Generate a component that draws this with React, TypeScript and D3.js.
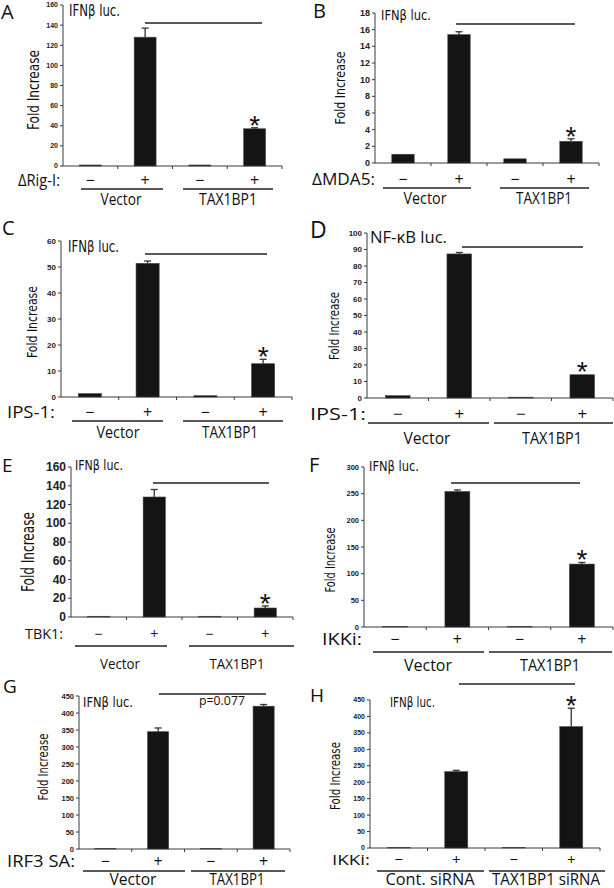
import React from "react";
import * as d3 from "d3";

// ---------- DATA ----------
const conditions = ["c1", "c2", "c3", "c4"];
const signs = ["−", "+", "−", "+"];

const valuesA = [1, 128, 1, 37];
const errorsA = [0.5, 9, 0.5, 1];
const valuesB = [1.05, 15.4, 0.5, 2.6];
const errorsB = [0.05, 0.35, 0.05, 0.3];
const valuesC = [1.3, 51.4, 0.5, 12.8];
const errorsC = [0.2, 0.9, 0.1, 1.7];
const valuesD = [1.4, 87.3, 0.5, 14.1];
const errorsD = [0.2, 0.9, 0.1, 0.3];
const valuesE = [0.8, 128, 0.8, 9.6];
const errorsE = [0.2, 8, 0.2, 2.2];
const valuesF = [1, 254, 1, 118];
const errorsF = [0.3, 3, 0.3, 3];
const valuesG = [2, 345, 2, 420];
const errorsG = [0.5, 11, 0.5, 5];
const valuesH = [2, 232, 2, 369];
const errorsH = [0.5, 4, 0.5, 56];

const ticksA = [0, 20, 40, 60, 80, 100, 120, 140, 160];
const ticksB = [0, 2, 4, 6, 8, 10, 12, 14, 16, 18];
const ticksC = [0, 10, 20, 30, 40, 50, 60];
const ticksD = [0, 10, 20, 30, 40, 50, 60, 70, 80, 90, 100];
const ticksE = [0, 20, 40, 60, 80, 100, 120, 140, 160];
const ticksF = [0, 50, 100, 150, 200, 250, 300];
const ticksG = [0, 50, 100, 150, 200, 250, 300, 350, 400, 450];
const ticksH = [0, 50, 100, 150, 200, 250, 300, 350, 400, 450];

const treatmentLabels = ["ΔRig-I:", "ΔMDA5:", "IPS-1:", "IPS-1:", "TBK1:", "IKKi:", "IRF3 SA:", "IKKi:"];
const reporterLabels = ["IFNβ luc.", "IFNβ luc.", "IFNβ luc.", "NF-κB luc.", "IFNβ luc.", "IFNβ luc.", "IFNβ luc.", "IFNβ luc."];
const groupsStd = ["Vector", "TAX1BP1"];
const groupsSi = ["Cont. siRNA", "TAX1BP1 siRNA"];
const panelLetters = ["A", "B", "C", "D", "E", "F", "G", "H"];
const yTitle = "Fold Increase";

// ---------- LAYOUT ----------
const SANS = "'Open Sans', 'Noto Sans', 'Liberation Sans', sans-serif";
const NARROW = "'Liberation Sans Narrow', 'DejaVu Sans Condensed', 'Liberation Sans', sans-serif";
const TICKFONT = "'Liberation Sans', Arial, sans-serif";

type Layout = {
  x0: number; xR: number; yZero: number; yTop: number;
  tickFont: number;
  letter: [number, number, number];
  title: [number, number, number, number, string];
  sig: [number, number, number];
  yt: [number, number, number, number];
  treat: [number, number, number, number];
  under: [number, number][]; underY: number;
  groups: [number, number, number][]; groupBase: number; groupSize: number;
  star: boolean;
};

const layouts: Layout[] = [
  { x0: 63, xR: 282, yZero: 166, yTop: 5, tickFont: 7, letter: [1, 19, 20],
    title: [69, 16, 51, 15.5, NARROW], sig: [145, 262, 23], yt: [33, 90, 80, 15.5],
    treat: [18, 186, 42, 16], under: [[81, 163], [183, 273]], underY: 189,
    groups: [[121, 41, 0], [228, 58, 0]], groupBase: 205, groupSize: 16, star: true },
  { x0: 375, xR: 599, yZero: 163, yTop: 13, tickFont: 9, letter: [313, 18, 20],
    title: [381, 20, 50, 14.5, NARROW], sig: [456, 575, 24], yt: [340, 88, 73, 14.5],
    treat: [312, 185, 63, 16], under: [[383, 471], [500, 589]], underY: 188,
    groups: [[425, 43, 0], [544, 56, 0]], groupBase: 204, groupSize: 16, star: true },
  { x0: 61, xR: 292, yZero: 397, yTop: 241, tickFont: 8, letter: [2, 235, 20],
    title: [68, 252, 51, 15.5, NARROW], sig: [145, 267, 254], yt: [32, 322, 72, 14.5],
    treat: [7, 418, 48, 16], under: [[72, 163], [183, 283]], underY: 421,
    groups: [[118, 43, 0], [230, 56, 0]], groupBase: 438, groupSize: 16, star: true },
  { x0: 367, xR: 613, yZero: 398, yTop: 233, tickFont: 8, letter: [310, 238, 23],
    title: [370, 243, 77, 16, SANS], sig: [462, 583, 247], yt: [334, 326, 68, 13.5],
    treat: [310, 420, 56, 17], under: [[368, 489], [494, 613]], underY: 423,
    groups: [[427, 47, 0], [552, 60, 0]], groupBase: 444, groupSize: 17, star: true },
  { x0: 71, xR: 293, yZero: 617, yTop: 467, tickFont: 12, letter: [2, 472, 19],
    title: [75, 470, 48, 14.5, NARROW], sig: [153, 269, 483], yt: [28, 552, 80, 17.5],
    treat: [25, 639, 38, 14], under: [[75, 167], [189, 294]], underY: 646,
    groups: [[120, 40, 0], [237, 55, 0]], groupBase: 669, groupSize: 15, star: true },
  { x0: 364, xR: 613, yZero: 627, yTop: 467, tickFont: 7.5, letter: [309, 472, 20],
    title: [369, 471, 50, 14.5, NARROW], sig: [451, 580, 483], yt: [330, 560, 65, 13.5],
    treat: [322, 645, 40, 16], under: [[373, 484], [489, 612]], underY: 652,
    groups: [[428, 48, 0], [550, 60, 0]], groupBase: 671, groupSize: 17, star: true },
  { x0: 79, xR: 290, yZero: 849, yTop: 696, tickFont: 7.5, letter: [3, 693, 19],
    title: [83, 707, 50, 14.5, NARROW], sig: [159, 266, 694], yt: [43, 767, 67, 13.5],
    treat: [7, 867, 68, 16], under: [[83, 185], [191, 285]], underY: 871,
    groups: [[133, 47, 0], [237, 55, 0]], groupBase: 885, groupSize: 16, star: false },
  { x0: 370, xR: 600, yZero: 848, yTop: 700, tickFont: 7, letter: [310, 702, 19],
    title: [390, 707, 45, 14.5, NARROW], sig: [459, 575, 684], yt: [335, 776, 68, 13.5],
    treat: [332, 865, 38, 15], under: [[377, 484], [489, 605]], underY: 871,
    groups: [[430, 89, 0], [546, 108, 0]], groupBase: 885, groupSize: 16, star: true },
];

const panelValues = [valuesA, valuesB, valuesC, valuesD, valuesE, valuesF, valuesG, valuesH];
const panelErrors = [errorsA, errorsB, errorsC, errorsD, errorsE, errorsF, errorsG, errorsH];
const panelTicks = [ticksA, ticksB, ticksC, ticksD, ticksE, ticksF, ticksG, ticksH];
const panelGroups = [groupsStd, groupsStd, groupsStd, groupsStd, groupsStd, groupsStd, groupsStd, groupsSi];

const AXIS = "#3a3a3a";

function Panel({ i }: { i: number }) {
  const L = layouts[i];
  const vals = panelValues[i];
  const errs = panelErrors[i];
  const ticks = panelTicks[i];
  const yMax = ticks[ticks.length - 1];
  const y = d3.scaleLinear().domain([0, yMax]).range([L.yZero, L.yTop]);
  const x = d3.scaleBand<string>().domain(conditions).range([L.x0, L.xR]).padding(0);
  const bw = x.bandwidth() * 0.4;
  const boundaries = conditions.map((c) => (x(c) as number) + x.bandwidth());
  const [tx, tb, tw, ts, tf] = L.title;
  const [ycx, ycy, ylen, ysize] = L.yt;
  const [trx, trb, trw, trs] = L.treat;
  const last = conditions.length - 1;
  const starY = y(vals[last] + errs[last]) - 9;
  return (
    <g>
      <text x={L.letter[0]} y={L.letter[1]} fontFamily={SANS} fontSize={L.letter[2]} fill="#111">
        {panelLetters[i]}
      </text>
      {/* y axis */}
      <line x1={L.x0} x2={L.x0} y1={y(0)} y2={y(yMax)} stroke={AXIS} strokeWidth={1} />
      {ticks.map((t) => (
        <g key={t}>
          <line x1={L.x0 - 3} x2={L.x0} y1={y(t)} y2={y(t)} stroke={AXIS} strokeWidth={1} />
          <text x={L.x0 - 5} y={y(t)} dy="0.35em" textAnchor="end" fontFamily={TICKFONT}
            fontWeight="bold" fontSize={L.tickFont} fill="#222">{t}</text>
        </g>
      ))}
      {/* x axis */}
      <line x1={L.x0} x2={L.xR} y1={y(0)} y2={y(0)} stroke={AXIS} strokeWidth={1} />
      {boundaries.map((b, k) => (
        <line key={k} x1={b} x2={b} y1={y(0)} y2={y(0) + 3} stroke={AXIS} strokeWidth={1} />
      ))}
      {/* bars */}
      {conditions.map((c, k) => {
        const cx = (x(c) as number) + x.bandwidth() / 2;
        const top = y(vals[k]);
        const et = y(vals[k] + errs[k]);
        return (
          <g key={c}>
            <rect x={cx - bw / 2} y={top} width={bw} height={y(0) - top} fill="#141414" stroke="#444" strokeWidth={0.6} />
            {top - et > 0.8 && (
              <g stroke="#333" strokeWidth={1.3}>
                <line x1={cx} x2={cx} y1={top} y2={et} />
                <line x1={cx - 3.5} x2={cx + 3.5} y1={et} y2={et} />
              </g>
            )}
          </g>
        );
      })}
      {/* significance */}
      <line x1={L.sig[0]} x2={L.sig[1]} y1={L.sig[2]} y2={L.sig[2]} stroke="#222" strokeWidth={1.5} />
      {L.star && (
        <text x={(x(conditions[last]) as number) + x.bandwidth() / 2} y={starY + 16} textAnchor="middle"
          fontFamily={TICKFONT} fontSize={28} fill="#111">*</text>
      )}
      {i === 6 && (
        <text x={199} y={705} fontFamily={SANS} fontSize={13} textLength={46} lengthAdjust="spacingAndGlyphs" fill="#111">p=0.077</text>
      )}
      {/* reporter title */}
      <text x={tx} y={tb} fontFamily={tf} fontSize={ts} textLength={tw} lengthAdjust="spacingAndGlyphs" fill="#111">
        {reporterLabels[i]}
      </text>
      {/* y title */}
      <text transform={`translate(${ycx + ysize * 0.36},${ycy}) rotate(-90)`} textAnchor="middle"
        fontFamily={NARROW} fontSize={ysize} textLength={ylen} lengthAdjust="spacingAndGlyphs" fill="#111">
        {yTitle}
      </text>
      {/* treatment row */}
      <text x={trx} y={trb} fontFamily={SANS} fontSize={trs} textLength={trw} lengthAdjust="spacingAndGlyphs" fill="#111">
        {treatmentLabels[i]}
      </text>
      {conditions.map((c, k) => (
        <text key={c} x={(x(c) as number) + x.bandwidth() / 2} y={trb} textAnchor="middle"
          fontFamily={SANS} fontSize={trs} fill="#111">{signs[k]}</text>
      ))}
      {L.under.map(([a, b], k) => (
        <line key={k} x1={a} x2={b} y1={L.underY} y2={L.underY} stroke="#222" strokeWidth={1.3} />
      ))}
      {L.groups.map(([cx, w], k) => (
        <text key={k} x={cx} y={L.groupBase} textAnchor="middle" fontFamily={SANS} fontSize={L.groupSize}
          textLength={w} lengthAdjust="spacingAndGlyphs" fill="#111">
          {panelGroups[i][k]}
        </text>
      ))}
    </g>
  );
}

export default function App() {
  return (
    <svg width={614} height={888} style={{ position: "absolute", left: 0, top: 0, background: "#fff" }}>
      <rect width={614} height={888} fill="#fff" />
      {layouts.map((_, i) => (
        <Panel key={i} i={i} />
      ))}
    </svg>
  );
}
